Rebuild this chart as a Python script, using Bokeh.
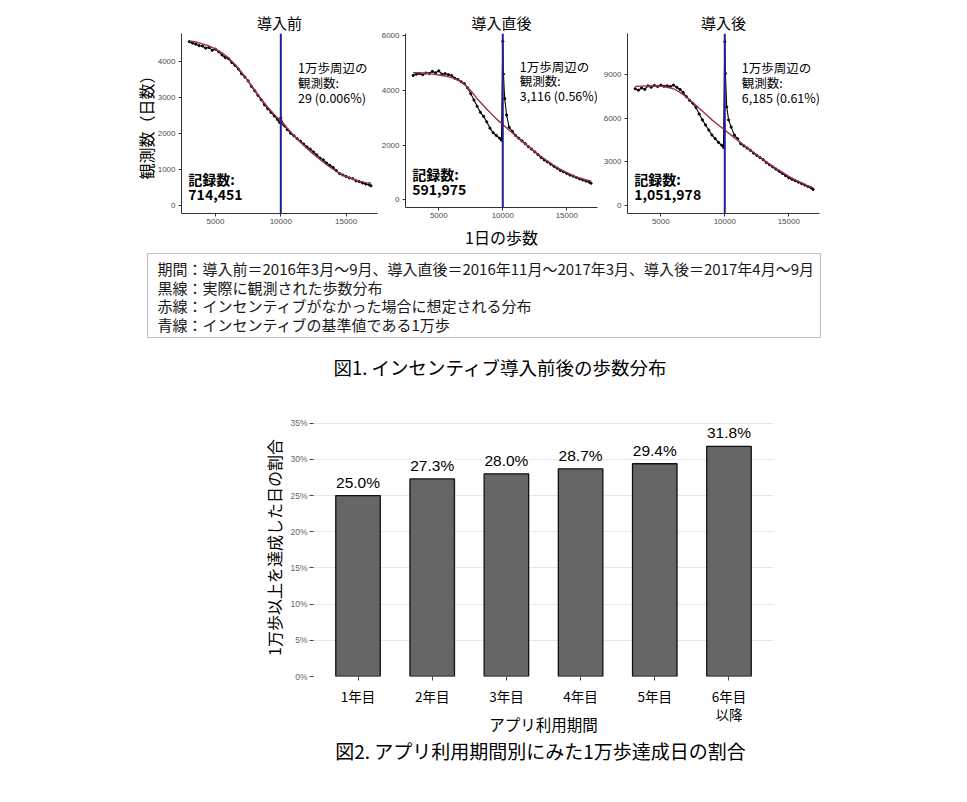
from bokeh.plotting import figure
from bokeh.models import (Range1d, Label, Span, FixedTicker, SingleIntervalTicker,
                          BoxAnnotation, ColumnDataSource, LabelSet, PrintfTickFormatter, Spacer)
from bokeh.core.properties import value
from bokeh.layouts import column, row
from bokeh.embed import file_html
from bokeh.resources import INLINE

JP = "Noto Sans CJK JP"
NUM = "Liberation Sans"

# ---------------- data: figure 1 ----------------
steps = [3000, 3250, 3500, 3750, 4000, 4250, 4500, 4750, 5000, 5250, 5500, 5750,
         6000, 6250, 6500, 6750, 7000, 7250, 7500, 7750, 8000, 8250, 8500, 8750,
         9000, 9250, 9500, 9750, 9900, 10000, 10050, 10150, 10300, 10500,
         10750, 11000, 11250, 11500, 11750, 12000, 12250, 12500, 12750, 13000,
         13250, 13500, 13750, 14000, 14250, 14500, 14750, 15000, 15250, 15500,
         15750, 16000, 16250, 16500, 16750, 16900]

obs_before = [4540, 4500, 4470, 4430, 4420, 4360, 4380, 4300, 4330, 4260, 4170, 4100,
              4070, 3960, 3880, 3780, 3650, 3560, 3450, 3300, 3180, 3050, 2930, 2790,
              2680, 2580, 2480, 2380, 2300, 2420, 2320, 2260, 2200, 2100,
              2000, 1930, 1850, 1780, 1700, 1620, 1560, 1480, 1400, 1310,
              1260, 1170, 1110, 1050, 960, 880, 840, 800, 760, 740,
              680, 660, 620, 590, 570, 540]

obs_just_after = [4550, 4600, 4620, 4580, 4640, 4620, 4700, 4650, 4720, 4600, 4620, 4580,
                  4550, 4450, 4400, 4320, 4250, 4100, 3880, 3650, 3420, 3200, 3050, 2850,
                  2620, 2450, 2350, 2250, 2180, 5800, 4600, 3700, 3100, 2650,
                  2500, 2350, 2250, 2150, 2050, 1940, 1850, 1750, 1650, 1540,
                  1450, 1380, 1300, 1220, 1150, 1070, 1020, 960, 900, 860,
                  810, 760, 720, 680, 640, 600]

obs_after = [8050, 7950, 8100, 8000, 8250, 8150, 8280, 8200, 8300, 8220, 8250, 8200,
             8300, 8150, 8000, 7800, 7500, 7250, 7050, 6750, 6300, 5900, 5550, 5200,
             4850, 4600, 4350, 4150, 4000, 11300, 9100, 6800, 5900, 5400,
             4850, 4600, 4250, 4100, 3950, 3800, 3600, 3450, 3300, 3150,
             2950, 2800, 2650, 2500, 2350, 2200, 2050, 1900, 1800, 1700,
             1600, 1500, 1400, 1300, 1200, 1100]

fit_steps = [3000, 3500, 4000, 4500, 5000, 5500, 6000, 6500, 7000, 7500, 8000, 8500,
             9000, 9500, 10000, 10500, 11000, 11500, 12000, 12500, 13000, 13500,
             14000, 14500, 15000, 15500, 16000, 16500, 16900]

fit_before = [4560, 4530, 4480, 4420, 4340, 4230, 4090, 3910, 3690, 3450, 3200, 2950,
              2720, 2520, 2340, 2140, 1940, 1750, 1580, 1420, 1270, 1130,
              1000, 890, 800, 730, 670, 630, 620]

fit_just_after = [4650, 4650, 4630, 4600, 4570, 4530, 4470, 4380, 4230, 3990, 3700, 3440,
                  3190, 2960, 2750, 2540, 2340, 2140, 1950, 1760, 1580, 1410,
                  1250, 1110, 990, 880, 790, 720, 680]

fit_after = [8200, 8230, 8250, 8240, 8230, 8150, 8050, 7800, 7480, 7100, 6700, 6300,
             5900, 5550, 5200, 4850, 4500, 4150, 3820, 3480, 3150, 2850,
             2550, 2270, 2000, 1760, 1550, 1350, 1200]

panel_titles = ["導入前", "導入直後", "導入後"]
near_counts = ["29 (0.006%)", "3,116 (0.56%)", "6,185 (0.61%)"]
record_counts = ["714,451", "591,975", "1,051,978"]
y_intervals = [1000, 2000, 3000]
x_ticks = [5000, 10000, 15000]
threshold = 10000

box_lines = [
    "期間：導入前＝2016年3月～9月、導入直後＝2016年11月～2017年3月、導入後＝2017年4月～9月",
    "黒線：実際に観測された歩数分布",
    "赤線：インセンティブがなかった場合に想定される分布",
    "青線：インセンティブの基準値である1万歩",
]
caption1 = "図1. インセンティブ導入前後の歩数分布"

# ---------------- data: figure 2 ----------------
periods = ["1年目", "2年目", "3年目", "4年目", "5年目", "6年目\n以降"]
rates = [25.0, 27.3, 28.0, 28.7, 29.4, 31.8]
rate_ticks = [0, 5, 10, 15, 20, 25, 30, 35]
caption2 = "図2. アプリ利用期間別にみた1万歩達成日の割合"

# ---------------- layout constants ----------------
W = 951
X0, X1 = 2400, 17400
TOP_H = 243
LEAD = 120
# (width, min_border_left, min_border_right) of each panel
panel_geom = [(250, 53, 1), (222, 24, 3), (230, 25, 11)]


def panel(i, obs, fit, ylabel=None, xlabel=None):
    width, left, right = panel_geom[i]
    M = max(obs)
    y0, y1 = -0.05 * M, 1.05 * M
    p = figure(width=width, height=TOP_H, x_range=Range1d(X0, X1), y_range=Range1d(y0, y1),
               output_backend="svg", toolbar_location=None, frame_align=False,
               min_border_left=left, min_border_right=right,
               min_border_top=25, min_border_bottom=38)
    p.title.text = panel_titles[i]
    p.title.align = "center"
    p.title.text_font = JP
    p.title.text_font_size = "15px"
    p.title.text_font_style = "normal"
    p.title.text_color = "black"
    p.title.standoff = 1
    p.outline_line_color = None
    p.grid.visible = False
    for ax in (p.xaxis[0], p.yaxis[0]):
        ax.axis_line_color = "#333333"
        ax.axis_line_width = 1
        ax.major_tick_line_color = "#333333"
        ax.major_tick_out = 3
        ax.major_tick_in = 0
        ax.minor_tick_line_color = None
        ax.major_label_text_font = NUM
        ax.major_label_text_font_size = "8px"
        ax.major_label_text_color = "#4d4d4d"
        ax.major_label_standoff = 2
        ax.axis_label_text_font = JP
        ax.axis_label_text_font_style = "normal"
        ax.axis_label_text_font_size = "16px"
        ax.axis_label_text_color = "black"
    p.xaxis[0].ticker = FixedTicker(ticks=x_ticks)
    p.yaxis[0].ticker = SingleIntervalTicker(interval=y_intervals[i])
    p.xaxis[0].formatter.use_scientific = False
    p.yaxis[0].formatter.use_scientific = False
    if ylabel:
        p.yaxis[0].axis_label = ylabel
        p.yaxis[0].axis_label_standoff = -3
    if xlabel:
        p.xaxis[0].axis_label = xlabel
        p.xaxis[0].axis_label_standoff = 4

    p.line(steps, obs, line_color="black", line_width=1.1)
    p.scatter(steps, obs, size=2.2, color="black")
    p.line(fit_steps, fit, line_color="#9b3350", line_width=1.4)
    p.add_layout(Span(location=threshold, dimension="height", line_color="#1f1f96", line_width=2))

    xa = X0 + 0.595 * (X1 - X0)
    for frac, txt in zip([0.811, 0.728, 0.644], ["1万歩周辺の", "観測数:", near_counts[i]]):
        p.add_layout(Label(x=xa, y=y0 + frac * (y1 - y0), text=txt, text_font=JP,
                           text_font_size="12.5px", text_baseline="middle", text_align="left",
                           text_color="black"))
    xb = X0 + 0.035 * (X1 - X0)
    for frac, txt in zip([0.194, 0.106], ["記録数:", record_counts[i]]):
        p.add_layout(Label(x=xb, y=y0 + frac * (y1 - y0), text=txt, text_font=JP,
                           text_font_size="14px", text_font_style="bold",
                           text_baseline="middle", text_align="left", text_color="black"))
    return p


f1 = panel(0, obs_before, fit_before, ylabel="観測数（日数）")
f2 = panel(1, obs_just_after, fit_just_after, xlabel="1日の歩数")
f3 = panel(2, obs_after, fit_after)


def canvas(w, h):
    c = figure(width=w, height=h, x_range=Range1d(0, w), y_range=Range1d(h, 0),
               x_axis_type=None, y_axis_type=None, output_backend="svg",
               toolbar_location=None, min_border=0, frame_align=False)
    c.grid.visible = False
    c.outline_line_color = None
    return c


c2 = canvas(W, 147)
c2.add_layout(BoxAnnotation(left=139, right=812, top=2, bottom=86, fill_color=None,
                            line_color="#333333", line_width=1.2))
for k, line in enumerate(box_lines):
    c2.add_layout(Label(x=149, y=17 + k * 18.7, text=line, text_font=JP, text_font_size="15px",
                        text_baseline="middle", text_align="left", text_color="#1a1a1a"))
c2.add_layout(Label(x=492, y=115, text=caption1, text_font=JP, text_font_size="18.5px",
                    text_baseline="middle", text_align="center", text_color="black"))

# ---------------- figure 2 bars ----------------
pos = list(range(1, len(periods) + 1))
src = ColumnDataSource(dict(x=pos, y=rates, label=[f"{r:.1f}%" for r in rates]))
b = figure(width=W, height=339, x_range=Range1d(0.4, len(periods) + 0.6), y_range=Range1d(0, 35.65),
           output_backend="svg", toolbar_location=None, frame_align=False,
           min_border_left=305, min_border_right=186, min_border_top=20, min_border_bottom=61)
b.outline_line_color = None
b.xgrid.visible = False
b.ygrid.grid_line_color = "#e6e6e6"
b.ygrid.grid_line_width = 1
b.vbar(x="x", top="y", width=0.6, source=src, fill_color="#666666", line_color="#111111", line_width=1.3)
b.add_layout(LabelSet(x="x", y="y", text="label", source=src, y_offset=5, text_align="center",
                      text_baseline="bottom", text_font=value(NUM), text_font_size=value("15.5px"),
                      text_color="black", background_fill_color="white"))
for ax in (b.xaxis[0], b.yaxis[0]):
    ax.axis_line_color = None
    ax.major_tick_line_color = "#444444"
    ax.major_tick_out = 4
    ax.major_tick_in = 0
    ax.minor_tick_line_color = None
    ax.axis_label_text_font = JP
    ax.axis_label_text_font_style = "normal"
    ax.axis_label_text_color = "black"
b.yaxis[0].ticker = FixedTicker(ticks=rate_ticks)
b.yaxis[0].formatter = PrintfTickFormatter(format="%d%%")
b.yaxis[0].major_label_text_font = NUM
b.yaxis[0].major_label_text_font_size = "8.5px"
b.yaxis[0].major_label_text_color = "#666666"
b.yaxis[0].major_label_standoff = 2
b.yaxis[0].axis_label = "1万歩以上を達成した日の割合"
b.yaxis[0].axis_label_text_font_size = "16px"
b.yaxis[0].axis_label_standoff = 1
b.xaxis[0].ticker = FixedTicker(ticks=pos)
b.xaxis[0].major_label_overrides = {p_: lab for p_, lab in zip(pos, periods)}
b.xaxis[0].major_label_text_font = JP
b.xaxis[0].major_label_text_font_size = "13.5px"
b.xaxis[0].major_label_text_line_height = 0.9
b.xaxis[0].major_label_text_color = "black"
b.xaxis[0].major_label_standoff = 5
b.xaxis[0].axis_label = "アプリ利用期間"
b.xaxis[0].axis_label_text_font_size = "15.5px"
b.xaxis[0].axis_label_standoff = -14

c3 = canvas(W, 50)
c3.add_layout(Label(x=532, y=13, text=caption2, text_font=JP, text_font_size="19px",
                    text_baseline="middle", text_align="center", text_color="black"))

body = column(Spacer(width=W, height=8),
              row(Spacer(width=LEAD, height=TOP_H), f1, f2, f3), c2, b, c3)
layout = row(Spacer(width=8, height=10), body)
open("out.html", "w").write(file_html(layout, INLINE))
